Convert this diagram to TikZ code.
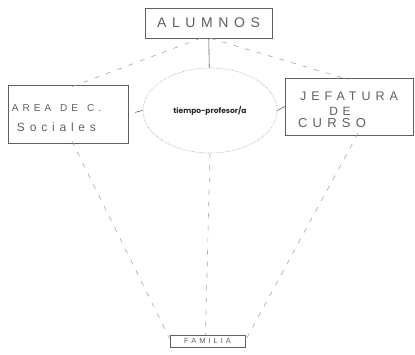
\documentclass[tikz,border=0pt]{standalone}
\usepackage{fontspec}
\newfontfamily\handfont[LetterSpace=40]{Liberation Sans}
\newfontfamily\labelfont{Poppins}
\usetikzlibrary{
    positioning,           % Relative positioning
    shapes.geometric       % Ellipse
}
\definecolor{pencil}{RGB}{95,95,95}
\definecolor{faint}{RGB}{165,165,165}
\newcommand{\handword}[1]{\mbox{#1}\hspace{9pt}}

\begin{document}
\begin{tikzpicture}[x=1pt,y=-1pt,
    box/.style={draw=pencil,line width=0.6pt,rectangle,inner sep=0pt,text=pencil},
    link/.style={draw=pencil,line width=0.6pt},
    dash link/.style={draw=faint,line width=0.6pt,dash pattern=on 5pt off 7pt}]
    \useasboundingbox (0,0) rectangle (415,354);
    \node[box,minimum width=127pt,minimum height=30pt,font=\handfont\fontsize{14}{16}\selectfont] (alumnos) at (208.5,23) {ALUMNOS};
    \node[box,minimum width=120pt,minimum height=58pt,text width=112pt,align=left,font=\fontsize{10}{14}\selectfont] (area) at (68,114)
        {{\handfont\fontsize{10}{11}\selectfont\rule{0pt}{16pt}\handword{AREA}\handword{DE}\mbox{C.}}\\[6pt]{\handfont\fontsize{12}{13}\selectfont\hspace{5pt}Sociales}};
    \node[box,minimum width=128pt,minimum height=57pt,align=center,text=pencil,font=\fontsize{12}{15}\selectfont] (jefatura) at (349,106.5)
        {{\handfont\fontsize{12.5}{14}\selectfont\rule{0pt}{16pt}JEFATURA}\\{\handfont\fontsize{12}{12}\selectfont\hspace*{-18pt}DE}\\[-3pt]{\handfont\fontsize{13}{13}\selectfont\hspace*{-34pt}CURSO}};
    \node[ellipse,draw=faint,densely dotted,line width=0.6pt,minimum width=134pt,minimum height=85pt,inner sep=0pt,
        font=\labelfont\bfseries\fontsize{7.5}{9}\selectfont,text=black!85] (tiempo) at (210,110.5) {tiempo-profesor/a};
    \node[box,minimum width=75pt,minimum height=12pt,font=\handfont\fontsize{7.5}{8}\selectfont] (familia) at (207.5,341) {FAMILIA};

    \draw[link] (alumnos) -- (tiempo);
    \draw[link,shorten <=7pt] (area.east) -- (tiempo.west);
    \draw[link] (tiempo.east) -- (jefatura.west);
    \draw[dash link] ([xshift=-8pt]alumnos.south) -- ([xshift=4pt,yshift=-2pt]area.north);
    \draw[dash link] ([xshift=2pt]alumnos.south) -- ([yshift=-2pt]jefatura.north);
    \draw[dash link] ([xshift=4pt,yshift=2pt]area.south) -- ([yshift=-4pt]familia.north west);
    \draw[dash link] (tiempo.south) -- ([xshift=-2pt]familia.north);
    \draw[dash link] ([xshift=9pt,yshift=2pt]jefatura.south) -- ([yshift=-6pt]familia.north east);
\end{tikzpicture}
\end{document}
